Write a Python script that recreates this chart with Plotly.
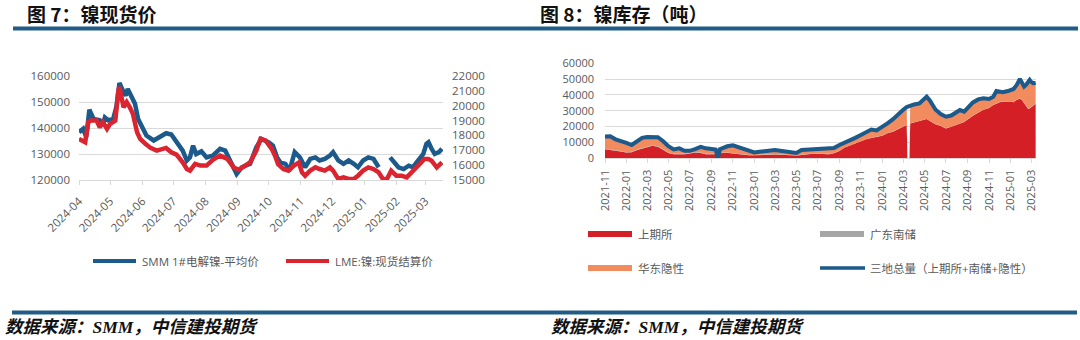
import plotly.graph_objects as go

W, H = 1080, 340

# ---------------- Figure 7: nickel spot prices ----------------
price_month_labels = ["2024-04", "2024-05", "2024-06", "2024-07", "2024-08", "2024-09",
                      "2024-10", "2024-11", "2024-12", "2025-01", "2025-02", "2025-03"]

smm_dates = ["2024-04-01","2024-04-05","2024-04-08","2024-04-11","2024-04-15","2024-04-21","2024-04-24","2024-04-26","2024-04-29",
             "2024-05-04","2024-05-07","2024-05-10","2024-05-14","2024-05-16","2024-05-18","2024-05-22","2024-05-25","2024-05-28","2024-05-31",
             "2024-06-05","2024-06-12","2024-06-18","2024-06-24","2024-06-29",
             "2024-07-04","2024-07-10","2024-07-14","2024-07-17","2024-07-20","2024-07-23","2024-07-28",
             "2024-08-02","2024-08-08","2024-08-15","2024-08-20","2024-08-25","2024-08-31",
             "2024-09-05","2024-09-13","2024-09-19","2024-09-24",
             "2024-10-01","2024-10-05","2024-10-09","2024-10-12","2024-10-17","2024-10-21","2024-10-26","2024-10-31",
             "2024-11-05","2024-11-10","2024-11-15","2024-11-19","2024-11-24","2024-11-29",
             "2024-12-02","2024-12-07","2024-12-12","2024-12-17","2024-12-22","2024-12-26","2024-12-31",
             "2025-01-05","2025-01-10","2025-01-15","2025-01-20","2025-01-26","2025-01-29",
             "2025-02-03","2025-02-08","2025-02-13","2025-02-17","2025-02-22","2025-02-27",
             "2025-03-02","2025-03-04","2025-03-07","2025-03-10","2025-03-14","2025-03-17"]
smm_price = [138400,139700,136500,147000,143500,143000,141000,144000,143000,
             143500,148000,157300,153800,152500,155000,152000,149300,143500,141000,
             137100,135200,136500,138000,137500,
             134500,131300,127500,128700,133200,130000,131000,
             128700,129400,132000,131300,127500,122300,
             124900,126200,132600,135800,
             134500,133200,128700,126800,126200,123600,130700,128700,
             124900,128100,128700,127500,128100,129400,
             130700,127500,126200,127500,126200,124900,127500,
             128700,128100,124900,None,128700,127500,
             124900,124200,125500,124900,127500,130000,
             133900,134500,132000,130000,130700,132000]

lme_dates = ["2024-04-01","2024-04-05","2024-04-07","2024-04-10","2024-04-13","2024-04-18","2024-04-21","2024-04-24","2024-04-28",
             "2024-05-01","2024-05-06","2024-05-09","2024-05-10","2024-05-14","2024-05-17","2024-05-20","2024-05-23","2024-05-27","2024-05-30",
             "2024-06-04","2024-06-09","2024-06-15","2024-06-20","2024-06-24","2024-06-29",
             "2024-07-04","2024-07-10","2024-07-14","2024-07-17","2024-07-22","2024-07-27",
             "2024-08-02","2024-08-08","2024-08-15","2024-08-22","2024-08-28",
             "2024-09-02","2024-09-06","2024-09-13","2024-09-19","2024-09-23","2024-09-28",
             "2024-10-02","2024-10-04","2024-10-07","2024-10-10","2024-10-15","2024-10-20","2024-10-25","2024-10-30",
             "2024-11-02","2024-11-05","2024-11-10","2024-11-15","2024-11-19","2024-11-24","2024-11-29",
             "2024-12-02","2024-12-07","2024-12-12","2024-12-17","2024-12-22","2024-12-26","2024-12-31",
             "2025-01-05","2025-01-10","2025-01-15","2025-01-19","2025-01-23","2025-01-27",
             "2025-02-01","2025-02-06","2025-02-11","2025-02-16","2025-02-20","2025-02-25","2025-02-28",
             "2025-03-04","2025-03-07","2025-03-12","2025-03-17"]
lme_price = [17770,17650,17540,18900,19000,19000,18550,18900,18440,
             18780,19000,21030,21260,19900,20240,19900,19450,18220,17770,
             17430,17160,16980,17090,17160,16870,
             16710,16190,15740,15630,16080,15970,
             15970,16350,16640,16420,15860,
             15680,15860,16190,16980,17770,17650,
             17320,17080,16630,16070,15740,15630,15960,16180,
             15510,15290,15630,15850,15740,15630,15850,
             15630,15070,15180,15070,15070,15290,15630,
             15850,15740,15510,15070,15070,15630,
             15290,15290,15180,15510,15850,16180,16410,
             16410,16300,15850,16180]

# ---------------- Figure 8: nickel inventories (tonnes) ----------------
inv_month_labels = ["2021-11", "2022-01", "2022-03", "2022-05", "2022-07", "2022-09", "2022-11",
                    "2023-01", "2023-03", "2023-05", "2023-07", "2023-09", "2023-11",
                    "2024-01", "2024-03", "2024-05", "2024-07", "2024-09", "2024-11",
                    "2025-01", "2025-03"]

inv_dates = ["2021-11-01","2021-11-16","2021-12-01","2021-12-16",
             "2022-01-01","2022-01-16","2022-02-01","2022-02-15","2022-03-01","2022-03-16","2022-04-01","2022-04-16",
             "2022-05-01","2022-05-16","2022-06-01","2022-06-16","2022-07-01","2022-07-16","2022-08-01","2022-08-16",
             "2022-09-01","2022-09-13","2022-09-19","2022-09-25","2022-10-01","2022-10-16","2022-11-01","2022-11-16",
             "2022-12-01","2022-12-16",
             "2023-01-01","2023-01-16","2023-02-01","2023-02-15","2023-03-01","2023-03-16","2023-04-01","2023-04-16",
             "2023-05-01","2023-05-16","2023-06-01","2023-06-16","2023-07-01","2023-07-16","2023-08-01","2023-08-16",
             "2023-09-01","2023-09-16","2023-10-01","2023-10-16","2023-11-01","2023-11-16","2023-12-01","2023-12-16",
             "2024-01-01","2024-01-16","2024-02-01","2024-02-15","2024-03-01","2024-03-11","2024-03-13","2024-03-19",
             "2024-03-21","2024-04-01","2024-04-16","2024-05-01","2024-05-07","2024-05-16","2024-06-01","2024-06-16",
             "2024-07-01","2024-07-16","2024-08-01","2024-08-10","2024-08-22","2024-09-01","2024-09-16","2024-10-01",
             "2024-10-16","2024-11-01","2024-11-13","2024-11-22","2024-12-01","2024-12-10","2024-12-25",
             "2025-01-01","2025-01-10","2025-01-19","2025-01-28","2025-02-03","2025-02-09","2025-02-15","2025-02-21",
             "2025-02-25","2025-03-01","2025-03-07","2025-03-14"]

shfe_stock = [5700,5300,4900,4300,3600,3900,5200,6100,7000,8000,7300,5500,3400,2500,2500,2500,3000,3700,3300,2500,
              2500,2500,0,3000,3300,3500,3000,2500,2100,1900,1900,1900,2100,2300,2400,2200,1900,1800,1700,2100,
              2600,2800,2900,2700,2600,3200,4600,6800,8200,9500,10600,12000,12900,13700,14300,15800,16800,18400,20000,21100,
              0,0,22000,22600,23200,24500,24800,23500,21500,20400,18900,19900,21300,22100,23000,24500,26900,28700,
              30600,31700,33700,34500,35400,35700,36000,35900,35400,37000,37600,36800,34800,33000,31200,31500,32000,33200,34500]

gd_south_stock = [300,300,300,300,300,300,300,300,300,300,300,300,300,300,300,300,300,300,300,300,
                  300,300,0,300,200,200,200,200,200,200,200,200,200,200,200,200,200,200,200,200,
                  200,200,200,200,200,200,100,100,100,100,100,100,100,100,100,100,100,100,100,100,
                  0,0,100,100,100,100,100,100,100,100,100,100,100,100,100,100,100,100,
                  100,100,100,100,100,100,100,100,100,100,100,100,100,100,100,100,100,100,100]

east_hidden_stock = [7800,8300,6800,6000,5800,4200,5700,6500,6200,5400,5700,5000,3900,2800,3500,2000,1400,1800,3600,3500,
                     2900,2700,0,2400,2800,3900,5000,4300,3600,2600,1600,2100,2200,2500,2600,2400,2200,2200,1500,3000,
                     2600,2500,2800,3400,3500,3100,3700,2800,2900,3300,4000,4700,5200,3800,5200,6200,7800,9300,10600,11200,
                     0,0,11100,11300,11400,13300,14000,12900,9200,7500,7300,7000,7600,8300,6400,7400,8300,8400,
                     7200,5700,5100,7900,6500,5900,6400,7000,8300,9200,12400,10900,10400,13400,16700,17900,16200,14100,13000]

total_stock = [13800,13900,12000,10600,9700,8400,11200,12900,13500,13700,13300,10800,7600,5600,6300,4800,4700,5800,7200,6300,
               5700,5500,0,5700,6300,7600,8200,7000,5900,4700,3700,4200,4500,5000,5200,4800,4300,4200,3400,5300,
               5400,5500,5900,6300,6300,6500,8400,9700,11200,12900,14700,16800,18200,17600,19600,22100,24700,27800,30700,32400,
               32600,33000,33200,34000,34700,37900,38900,36500,30800,28000,26300,27000,29000,30500,29500,32000,35300,37200,
               37900,37500,38900,42500,42000,41700,42500,43000,43800,46300,50100,47800,45300,46500,48000,49500,48300,47400,47600]

price_legend = ["SMM 1#电解镍-平均价", "LME:镍:现货结算价"]
inv_legend = ["上期所", "广东南储", "华东隐性", "三地总量（上期所+南储+隐性）"]
titles = ["图 7：镍现货价", "图 8：镍库存（吨）"]
source_text = "数据来源：SMM，中信建投期货"

# ---------------- styling ----------------
BLUE = "#1B5A8A"
RED_LINE = "#DA2530"
RED_AREA = "#D41F27"
ORANGE = "#F28B5E"
GRAY = "#A6A6A6"
RULE = "#205C86"
GRID = "#D9D9D9"
TXT = "#595959"
FONT = "Open Sans, Noto Sans CJK SC, sans-serif"
CJK = "Noto Sans CJK SC, sans-serif"


def px(x):
    return x / W


def py(y):
    return 1 - y / H


fig = go.Figure()

fig.add_trace(go.Scatter(x=smm_dates, y=smm_price, mode="lines", name=price_legend[0],
                         line=dict(color=BLUE, width=4.5), connectgaps=False,
                         xaxis="x", yaxis="y", showlegend=False))
fig.add_trace(go.Scatter(x=lme_dates, y=lme_price, mode="lines", name=price_legend[1],
                         line=dict(color=RED_LINE, width=4.5),
                         xaxis="x", yaxis="y2", showlegend=False))

fig.add_trace(go.Scatter(x=inv_dates, y=shfe_stock, name=inv_legend[0], stackgroup="inv",
                         mode="lines", line=dict(width=0, color=RED_AREA), fillcolor=RED_AREA,
                         xaxis="x2", yaxis="y3", showlegend=False))
fig.add_trace(go.Scatter(x=inv_dates, y=gd_south_stock, name=inv_legend[1], stackgroup="inv",
                         mode="lines", line=dict(width=0, color=GRAY), fillcolor=GRAY,
                         xaxis="x2", yaxis="y3", showlegend=False))
fig.add_trace(go.Scatter(x=inv_dates, y=east_hidden_stock, name=inv_legend[2], stackgroup="inv",
                         mode="lines", line=dict(width=0, color=ORANGE), fillcolor=ORANGE,
                         xaxis="x2", yaxis="y3", showlegend=False))
fig.add_trace(go.Scatter(x=inv_dates, y=total_stock, name=inv_legend[3], mode="lines",
                         line=dict(color=BLUE, width=4),
                         xaxis="x2", yaxis="y3", showlegend=False))

tickfont = dict(family=FONT, size=11.5, color=TXT)

fig.update_layout(
    width=W, height=H, margin=dict(l=0, r=0, t=0, b=0, pad=0, autoexpand=False),
    paper_bgcolor="white", plot_bgcolor="white", showlegend=False,
    xaxis=dict(domain=[px(79), px(443)], type="date", range=["2024-04-01", "2025-03-18"],
               tickvals=[m + "-01" for m in price_month_labels], ticktext=price_month_labels,
               tickangle=-45, showgrid=False, zeroline=False, showline=True, linecolor=GRID,
               ticks="outside", ticklen=4, tickcolor=GRID, tickfont=tickfont, anchor="y",
               ticklabelstandoff=5, automargin=False),
    yaxis=dict(domain=[py(180), py(76)], range=[120000, 160000], dtick=10000, tick0=0,
               tickformat="d", showgrid=True, gridcolor=GRID, gridwidth=1, zeroline=False,
               showline=False, tickfont=tickfont, ticklabelstandoff=8, anchor="x",
               automargin=False),
    yaxis2=dict(overlaying="y", side="right", range=[15000, 22000], dtick=1000, tick0=0,
                tickformat="d", showgrid=False, zeroline=False, showline=False,
                tickfont=tickfont, ticklabelstandoff=8, anchor="x", automargin=False),
    xaxis2=dict(domain=[px(605), px(1036)], type="date", range=["2021-11-01", "2025-03-15"],
                tickvals=[m + "-01" for m in inv_month_labels], ticktext=inv_month_labels,
                tickangle=-90, showgrid=False, zeroline=False, showline=True, linecolor=GRID,
                ticks="outside", ticklen=4, tickcolor=GRID, ticklabelstandoff=2,
                tickfont=dict(family=FONT, size=11, color=TXT), anchor="y3", automargin=False),
    yaxis3=dict(domain=[py(158.3), py(63.3)], range=[0, 60000], dtick=10000, tick0=0,
                tickformat="d", showgrid=True, gridcolor=GRID, gridwidth=1, zeroline=False,
                showline=False, tickfont=dict(family=FONT, size=11, color=TXT),
                ticklabelstandoff=10, anchor="x2", automargin=False),
)

shapes = []
# header and footer rules
shapes.append(dict(type="line", xref="paper", yref="paper", x0=px(13), x1=px(1078),
                   y0=py(28.4), y1=py(28.4), line=dict(color=RULE, width=4)))
shapes.append(dict(type="line", xref="paper", yref="paper", x0=px(12), x1=px(1077),
                   y0=py(312.5), y1=py(312.5), line=dict(color=RULE, width=4)))

# legend swatches
swatches = [
    (93, 136, 261, BLUE, 4), (286, 329, 261, RED_LINE, 4),
    (588, 632, 234, RED_AREA, 6), (820, 864, 234, GRAY, 6),
    (588, 632, 268, ORANGE, 6), (820, 865, 268, BLUE, 3.5),
]
for x0, x1, yy, col, wd in swatches:
    shapes.append(dict(type="line", xref="paper", yref="paper", x0=px(x0), x1=px(x1),
                       y0=py(yy), y1=py(yy), line=dict(color=col, width=wd)))

annotations = []
legend_text_pos = [
    (price_legend[0], 140, 261, 11.5), (price_legend[1], 333, 261, 11.5),
    (inv_legend[0], 636, 234, 11.5), (inv_legend[1], 868, 234, 11.5),
    (inv_legend[2], 636, 268, 11.5), (inv_legend[3], 868, 268, 11.5),
]
for txt, xx, yy, fs in legend_text_pos:
    annotations.append(dict(text=txt, x=px(xx), y=py(yy), xref="paper", yref="paper",
                            xanchor="left", yanchor="middle", showarrow=False,
                            font=dict(family=FONT, size=fs, color=TXT)))

for txt, xx in zip(titles, [26, 539]):
    annotations.append(dict(text="<b>" + txt + "</b>", x=px(xx), y=py(14), xref="paper", yref="paper",
                            xanchor="left", yanchor="middle", showarrow=False, borderpad=0,
                            font=dict(family=CJK, size=19, color="#111111")))

for xx in [3, 549]:
    annotations.append(dict(text="<b><i>" + source_text + "</i></b>", x=px(xx), y=py(327),
                            xref="paper", yref="paper", xanchor="left", yanchor="middle",
                            showarrow=False,
                            font=dict(family="Liberation Serif, Noto Sans CJK SC, serif", size=17.5,
                                      color="#111111")))

fig.update_layout(shapes=shapes, annotations=annotations)

fig.write_html("out.html")
